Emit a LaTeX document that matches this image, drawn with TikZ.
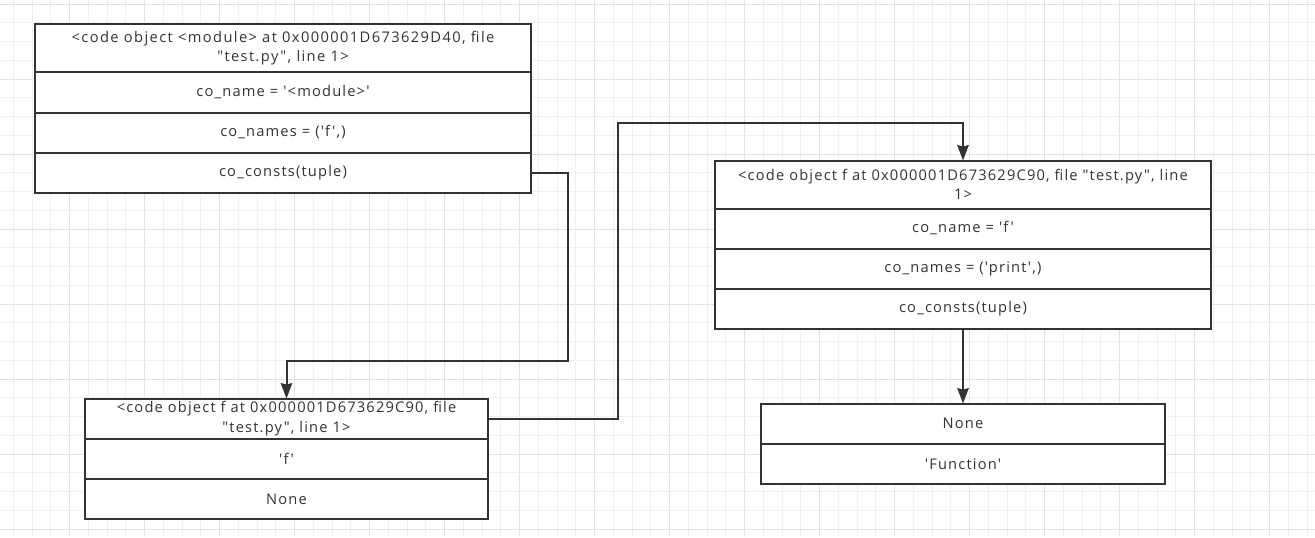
\documentclass[tikz,border=0pt]{standalone}
\usepackage{fontspec}
\setmainfont{Open Sans}[Ligatures=TeXOff, LetterSpace=8]
\usetikzlibrary{arrows.meta}
\definecolor{ink}{HTML}{333333}
\definecolor{gridminor}{HTML}{F0F0F0}
\definecolor{gridmajor}{HTML}{E2E2E2}
\tikzset{
  cell/.style={draw=ink, line width=1.5pt, fill=white, outer sep=0pt, inner sep=0pt,
    anchor=north west, align=center, text=ink,
    font=\fontsize{11}{14.5}\selectfont},
  link/.style={draw=ink, line width=1.5pt, -{Stealth[length=11.5pt,width=8.5pt,inset=1pt]}},
}
\begin{document}
\begin{tikzpicture}[x=0.75pt,y=-0.75pt]
\useasboundingbox (0,0) rectangle (1315,537);
\fill[white] (0,0) rectangle (1315,537);
% grid
\foreach \k in {0,...,69}{
  \pgfmathtruncatemacro\m{mod(\k,4)}
  \pgfmathsetmacro\xx{13.3+18.75*\k}
  \ifnum\m=3
    \draw[gridmajor, line width=0.75pt] (\xx,0) -- (\xx,537);
  \else
    \draw[gridminor, line width=0.75pt] (\xx,0) -- (\xx,537);
  \fi
}
\foreach \k in {0,...,28}{
  \pgfmathtruncatemacro\m{mod(\k,4)}
  \pgfmathsetmacro\yy{4+18.75*\k}
  \ifnum\m=0
    \draw[gridmajor, line width=0.75pt] (0,\yy) -- (1315,\yy);
  \else
    \draw[gridminor, line width=0.75pt] (0,\yy) -- (1315,\yy);
  \fi
}
% box 1 : module code object
\node[cell, minimum width={496*0.75pt}, minimum height={48*0.75pt},
      font=\fontsize{11}{14.5}\selectfont\addfontfeatures{LetterSpace=9.5}] (m1) at (35,24)
  {<code object <module> at 0x000001D673629D40, file\\"test.py", line 1>};
\node[cell, minimum width={496*0.75pt}, minimum height={40.5*0.75pt}] (m2) at (35,72)
  {co\_name = '<module>'};
\node[cell, minimum width={496*0.75pt}, minimum height={40*0.75pt}] (m3) at (35,112.5)
  {co\_names = ('f',)};
\node[cell, minimum width={496*0.75pt}, minimum height={40*0.75pt}] (m4) at (35,152.5)
  {co\_consts(tuple)};
% box 2 : function code object
\node[cell, minimum width={496*0.75pt}, minimum height={48*0.75pt}] (h1) at (715,160.5)
  {<code object f at 0x000001D673629C90, file "test.py", line\\1>};
\node[cell, minimum width={496*0.75pt}, minimum height={40*0.75pt}] (h2) at (715,208.5)
  {co\_name = 'f'};
\node[cell, minimum width={496*0.75pt}, minimum height={40*0.75pt}] (h3) at (715,248.5)
  {co\_names = ('print',)};
\node[cell, minimum width={496*0.75pt}, minimum height={40*0.75pt}] (h4) at (715,288.5)
  {co\_consts(tuple)};
% box 3 : consts tuple of module
\node[cell, minimum width={403*0.75pt}, minimum height={40.5*0.75pt}] (g1) at (85,398.5)
  {<code object f at 0x000001D673629C90, file\\"test.py", line 1>};
\node[cell, minimum width={403*0.75pt}, minimum height={40*0.75pt}] (g2) at (85,439)
  {'f'};
\node[cell, minimum width={403*0.75pt}, minimum height={40*0.75pt}] (g3) at (85,479)
  {None};
% box 4 : consts tuple of f
\node[cell, minimum width={404*0.75pt}, minimum height={40.5*0.75pt}] (k1) at (761,403.5)
  {None};
\node[cell, minimum width={404*0.75pt}, minimum height={40*0.75pt}] (k2) at (761,444)
  {'Function'};
% connectors
\coordinate (b1) at (568,360.5);
\coordinate (b2) at (617.5,123);
\draw[link] (m4.east) -| (b1) -| (g1.north);
\draw[link] (g1.east) -| (b2) -| (h1.north);
\draw[link] (h4.south) -- (k1.north);
\end{tikzpicture}
\end{document}
